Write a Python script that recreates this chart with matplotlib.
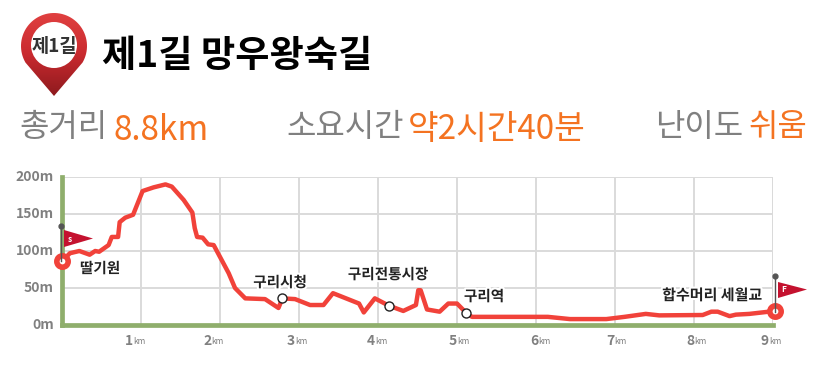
import matplotlib
matplotlib.use("Agg")
import matplotlib.pyplot as plt
import matplotlib.patheffects as pe
from matplotlib.patches import Circle, Polygon, PathPatch
from matplotlib.path import Path
import numpy as np

plt.rcParams['font.family'] = ['Noto Sans CJK KR', 'DejaVu Sans']

# course profile
km = [0, .10, .22, .35, .42, .47, .59, .63, .71, .73, .80, .90, 1.02, 1.16, 1.31, 1.39,
      1.54, 1.65, 1.68, 1.71, 1.78, 1.85, 1.92, 2.02, 2.11, 2.19, 2.32, 2.57, 2.74, 2.79,
      2.95, 3.14, 3.31, 3.43, 3.76, 3.82, 3.96, 4.14, 4.32, 4.48, 4.51, 4.54, 4.62, 4.78,
      4.89, 5.0, 5.12, 5.19, 6.15, 6.43, 6.89, 7.12, 7.39, 7.56, 8.11, 8.22, 8.30, 8.45,
      8.53, 8.70, 9.03]
height = [86, 97, 100, 95, 100, 99, 108, 119, 119, 139, 145, 149, 181, 186, 190, 187,
          169, 152, 131, 119, 118, 109, 108, 88, 70, 50, 36, 35, 23, 36,
          35, 27, 27, 43, 29, 17, 36, 26, 19, 27, 47, 47, 21, 18,
          29, 29, 16, 11, 11, 8, 8, 11, 15, 13, 13.5, 18, 18, 12,
          14, 15, 19]

stop_km = [2.79, 4.14, 5.12]
stop_m = [36, 26, 16]
stop_names = ['구리시청', '구리전통시장', '구리역']
stop_label_px = [(280, 282), (388, 274), (484, 296)]

x_ticks = [1, 2, 3, 4, 5, 6, 7, 8, 9]
y_ticks = [0, 50, 100, 150, 200]
# km labels are not evenly placed in the original
x_label_px = [125, 203, 287, 367, 449, 530, 606, 686, 761]

ORANGE = '#f47321'
GRAY = '#808080'
RED = '#f1423a'
GREEN = '#8fae6c'
FLAG = '#c4122f'

fig = plt.figure(figsize=(8.28, 3.87), dpi=100)

ax = fig.add_axes([62/828., (387-325)/387., (773-62)/828., (325-177)/387.])
ax.set_xlim(0, 9)
ax.set_ylim(0, 200)
ax.set_xticks(x_ticks)
ax.set_yticks(y_ticks)
ax.tick_params(length=0, labelbottom=False, labelleft=False)
ax.grid(True, color='#dadada', lw=1.4)
ax.set_axisbelow(True)
for s in ['top', 'right']:
    ax.spines[s].set_visible(False)
for s in ['left', 'bottom']:
    ax.spines[s].set_color(GREEN)
    ax.spines[s].set_linewidth(3.4)
ax.plot([9, 9], [0, 200], color='#dadada', lw=1.4, zorder=1)

ax.plot(km, height, color=RED, lw=3.2, solid_joinstyle='round', clip_on=False, zorder=3)
ax.plot(stop_km, stop_m, 'o', ms=6.5, mfc='white', mec='#222222', mew=1, zorder=4)
ax.plot([km[0], km[-1]], [height[0], height[-1]], 'o', ms=8.2, mfc='white', mec=RED, mew=4,
        clip_on=False, zorder=4)

for t in y_ticks:
    ax.annotate('%dm' % t, (0, t), xytext=(-8, 0), textcoords='offset pixels', ha='right', va='center',
                fontsize=10, fontweight='bold', color=GRAY, annotation_clip=False)

# overlay in pixel coords for header, flags and labels
ov = fig.add_axes([0, 0, 1, 1], zorder=5)
ov.set_xlim(0, 828)
ov.set_ylim(387, 0)
ov.axis('off')

# tick labels, number and a narrow km
for t, px in zip(x_ticks, x_label_px):
    ov.text(px, 341, str(t), ha='left', va='center', fontsize=10, fontweight='bold', color=GRAY)
    ov.text(px + 8, 341.5, 'km', ha='left', va='center', fontsize=6, color=GRAY)

halo = [pe.withStroke(linewidth=3, foreground='white')]
for name, (px, py) in zip(stop_names, stop_label_px):
    ov.text(px, py, name, ha='center', va='center', fontsize=10.5, fontweight='bold', color='#222222',
            path_effects=halo)
ov.text(100, 268, '딸기원', ha='center', va='center', fontsize=10.5, fontweight='bold', color='#222222',
        path_effects=halo)
ov.text(712, 295, '합수머리 세월교', ha='center', va='center', fontsize=10.8, fontweight='bold', color='#222222',
        path_effects=halo)

# flags
ov.plot([61.5, 61.5], [226, 261], color='#555555', lw=1)
ov.plot([61.5], [226], 'o', ms=3.5, color='#555555')
ov.add_patch(Polygon([(64, 230), (93, 238.5), (64, 247)], fc=FLAG, ec='none'))
ov.text(70, 239, 's', color='white', fontsize=6, fontweight='bold', ha='center', va='center')
ov.plot([775, 775], [276, 312], color='#555555', lw=1)
ov.plot([775], [276], 'o', ms=3.5, color='#555555')
ov.add_patch(Polygon([(778, 282), (807, 289.5), (778, 298)], fc=FLAG, ec='none'))
ov.text(784, 290, 'F', color='white', fontsize=6, fontweight='bold', ha='center', va='center')

# pin icon
cx, cy, r = 54, 46, 33
a = np.radians(np.linspace(210, -30, 60))
verts = [(54, 96)] + [(cx + r*np.cos(t), cy - r*np.sin(t)) for t in a] + [(54, 96)]
pin = PathPatch(Path(verts), fc='none', ec='none')
ov.add_patch(pin)
grad = np.linspace(0, 1, 100).reshape(-1, 1)
im = ov.imshow(grad, extent=(20, 88, 96, 13), cmap=matplotlib.colors.LinearSegmentedColormap.from_list(
    'pin', ['#e04040', '#c92a2f', '#8e1a1e']), aspect='auto', zorder=1)
im.set_clip_path(pin)
ov.set_xlim(0, 828)
ov.set_ylim(387, 0)
ov.add_patch(Circle((cx, cy - 1), 23, fc='white', ec='none', zorder=2))
ov.text(54, 46, '제1길', ha='center', va='center', fontsize=13.5, fontweight='bold', color='#333333', zorder=3)

ov.text(102, 57, '제1길 망우왕숙길', ha='left', va='center', fontsize=26.8, fontweight='bold', color='black')

ov.text(19, 127, '총거리', ha='left', va='center', fontsize=23, color=GRAY)
ov.text(114, 130, '8.8km', ha='left', va='center', fontsize=24, color=ORANGE)
ov.text(286, 127, '소요시간', ha='left', va='center', fontsize=23, color=GRAY)
ov.text(408, 129, '약2시간40분', ha='left', va='center', fontsize=24, color=ORANGE)
ov.text(655, 127, '난이도', ha='left', va='center', fontsize=23, color=GRAY)
ov.text(748, 127, '쉬움', ha='left', va='center', fontsize=23, color=ORANGE)

fig.savefig('out.png', dpi=100)
